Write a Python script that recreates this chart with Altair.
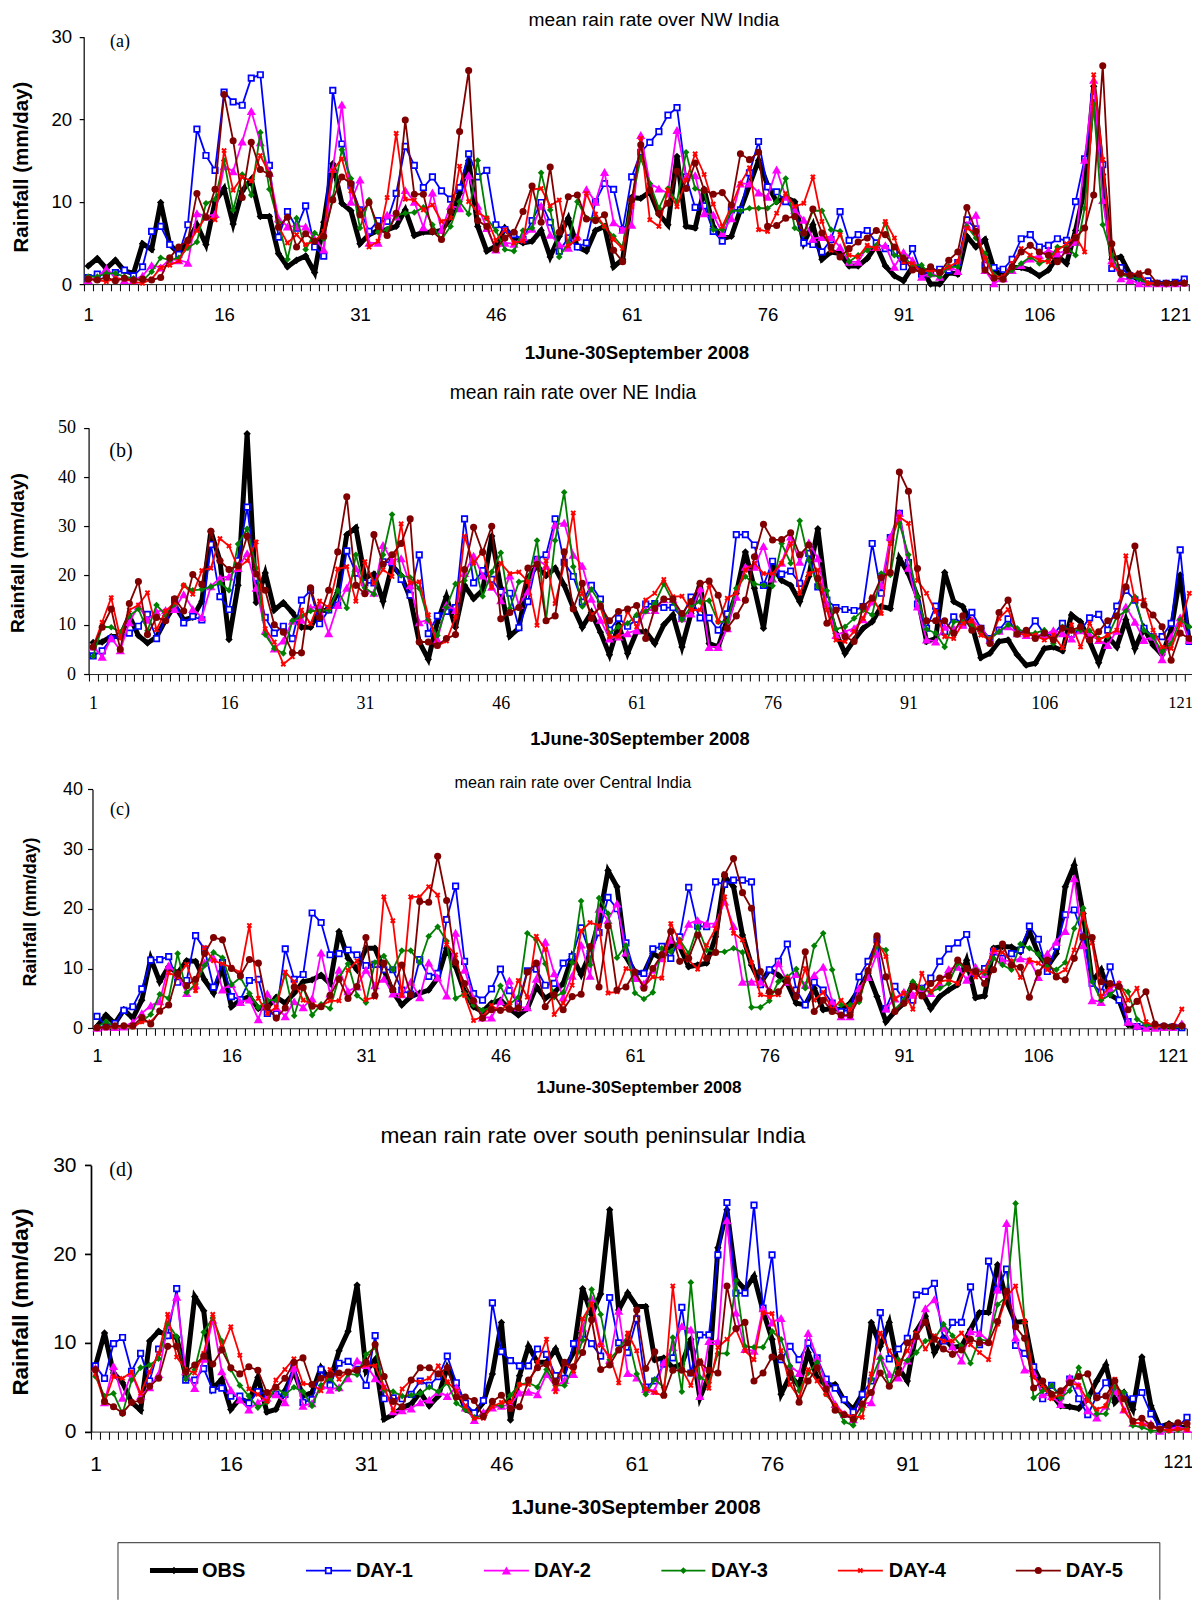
import altair as alt
import pandas as pd

days = list(range(1, 123))
series_names = ["OBS", "DAY-1", "DAY-2", "DAY-3", "DAY-4", "DAY-5"]

a_obs = [2.2,3.1,1.9,2.9,1.6,1.3,4.9,4.2,9.9,4.8,3.7,5.2,7.2,4.8,10,
11.6,7.3,11.3,12.7,8.2,8.2,3.7,2.1,2.9,3.4,1.4,7.5,14.6,9.8,8.9,
4.9,6,6.5,6.6,7,9,5.9,6.3,6.3,6.5,8,11,15,7,4,
4.6,6.8,5.5,5,5.2,6.5,3.3,5.8,8,4.5,4,6.5,7,2.1,3,
10.5,10.4,11.2,8.5,7.2,15.5,7,6.8,11.5,7,5.5,5.8,9,12,15,
12,10,10.5,10,5,7.2,3,3.9,3.7,2.2,2.2,3.1,4.7,2.2,1,
0.4,2.1,1.9,0,0,1.4,1.2,5.8,4.5,5.4,1.8,0.9,2,2,1.7,
1,1.7,3.4,2.5,6.5,11.6,24,13.3,3,3.3,1.2,0.5,0.2,0.1,0,
0.1,0.3]
a_d1 = [0.8,1.2,1.2,1.4,1.7,1.0,2.1,6.4,7,4.8,3.6,7.2,18.8,15.6,13.8,
23.3,22.1,21.7,25,25.4,14.4,5.7,8.8,6.8,9.5,4.5,3.4,23.5,17,12,
9,6.4,7.7,7.6,11,16.7,14.4,11.7,13,11.3,10.3,11.7,15.8,13,13.8,
7.2,6.6,6,5.4,7.7,9.9,7.5,4,5.6,4.5,5,10,12.2,11.5,6.6,
13,16,17.2,18.5,20.5,21.4,13,9.3,9.5,6.4,5.2,9,9,13.5,17.3,
11.8,11.2,10,9,5,4.8,3.9,5.4,8.8,5.3,6,6.5,5,4.3,3.9,
2.1,4.3,1.2,1.5,1.8,1.7,2.6,7.8,6.7,2.3,2,1.8,3,5.5,6,
4.5,4.7,5.5,5.3,10,15.2,22.7,14.5,1.9,2,1,0.5,0.4,0.1,0.1,
0.2,0.6]
a_d2 = [0.5,0.8,1.9,0.8,0.5,0.5,1,2.3,2,3,2.9,2.6,8.6,8.2,8.5,
14.3,13.7,17.3,21,17.2,13.5,8,7,7,7,5.5,4.2,14,21.8,10,
12.7,5,5,8.4,8.2,11.4,10,6.9,11.1,6.6,9.5,9.2,13.2,9.5,6.8,
4.2,5,4.9,5.7,6.7,9.5,6,4.8,4.4,5.8,11.5,10,13.6,7.5,6.6,
7.2,18.1,12.2,11.6,11,18.7,13,13.2,8.6,8.4,6.2,8,12.2,12.2,11.1,
10.6,13.9,10.6,9,7.8,5.5,5.7,5.7,4.5,2.7,2.7,4.5,4.5,4.7,2.1,
3.9,2.9,0.9,1.3,0.9,2.1,1.6,7.2,8.4,1.7,0.1,0.7,1.7,2.3,3.1,
3.5,4.1,3.7,4.1,5.1,15.1,24.8,10.2,2.9,0.7,0.5,0.1,0.1,0.1,0.1,
0.1,0.2]
a_d3 = [0.9,0.9,1.3,1.3,0.9,0.7,0.4,1.5,3.2,2.9,3.2,4.4,5.1,9.8,10.3,
15,9,13.3,10.8,18.4,11.5,7.5,3,8,4.2,6.2,5.5,10.5,16.3,12.8,
6.8,10.2,6.3,6.6,8.3,8.6,8.7,9.3,7.2,5.4,7,10,8.5,15,8,
6.5,4.2,4,6.5,6.8,13.5,9,3.3,5,10,8,8,7,5.8,4.5,
10.2,15.3,12.2,9.2,11.6,10,16,11.6,11.2,6.6,6.6,8.9,8.9,9.2,9.2,
9.2,10,12.8,6.8,6,8.9,8.9,6.6,6.4,2.7,3.5,4.1,4.7,7.4,3.5,
3.3,2.3,2.3,1.1,0.9,2.1,2.1,7,5.6,3.7,1.1,0.7,1.7,2.5,3.3,
2.5,2.9,4.5,4.5,3.5,9.2,21.8,7.2,3.5,1.1,0.9,0.6,0.1,0.1,0.1,
0.1,0.2]
a_d4 = [0.6,0.5,0.3,0.7,0.6,0.3,0.1,0.6,2,2.3,2.8,4.8,6.5,8.2,7.8,
16.2,11.4,13,12.5,15.6,13.4,7,5,6,4.8,5.2,6.4,13.8,15.2,11.3,
9,4.5,5.2,10.5,18.3,10.3,10.2,9,9.6,7.6,8,14.3,10,8.7,8,
5.3,6.6,5,5.2,11.5,11.6,9.5,10.2,4.6,5.5,11,8.5,7,5.4,4.3,
9.4,17.7,7.8,7,11.4,9.4,12.6,15.8,13.3,9.7,7,9.4,12.2,14.1,6.6,
6.4,8.6,11,9.4,9.8,13,7.6,4.1,6,3.5,3.3,4.7,4.3,7.6,5.6,
2.7,2.5,1.5,1.7,1.5,2.1,2.7,6.8,6.2,3.1,0.9,0.9,2.5,4.3,3.5,
2.9,2.7,4.1,4.9,5.8,3.9,25.4,15.1,2.3,1.3,1.1,1.4,0.1,0.1,0.1,
0.1,0.2]
a_d5 = [0.6,0.5,0.8,0.4,0.7,0.5,0.6,0.5,0.8,3.2,4.5,5.3,11,8.1,11.5,
23,17.4,10.5,17.2,13.9,13.3,6.9,8.1,4.5,6.1,5.2,5.8,10.2,13,12.2,
8.4,9.9,7,5.9,8.6,19.9,10.9,10.9,6.4,5.4,8.8,18.5,25.9,7.7,7,
4.2,5.6,6.3,8.8,11.9,7.5,14.2,6.3,10.6,10.8,7.9,7.7,8.4,4.1,2.7,
10.2,16.9,11.4,8.6,9.8,13.7,11.6,14.7,11.4,10.9,11.1,9.6,15.8,15.1,16,
7,7.1,8,8.2,6.2,9.1,6.2,4.5,3.3,4.3,5.1,5.6,6.5,6,4.5,
3.1,1.7,1.5,2.1,1.4,2.9,3.9,9.3,6.4,1.7,0.7,0.6,2.1,3.9,4.7,
3.9,3.5,2.7,4.1,5.6,6.8,10.8,26.5,4.9,1.3,1.1,1.2,1.5,0.1,0.1,
0.1,0.1]

b_obs = [6.4,6.5,7.6,7.6,11.8,7.8,6.3,7.5,11,14,11,11.5,14.8,29,23,
7,18,48.8,14.5,20.5,13,14.5,12.5,9.5,9.5,12.8,13,16.5,28.3,29.7,
19.5,20.3,14.8,22,20,15.5,6.5,3,10.5,15.7,9.5,18,15.3,17,28,
17.5,7.7,9.3,19.5,22,20,21.5,18,13.5,9.5,12.5,8.5,3.9,10,4.2,
8.6,8.6,6.2,10,12,5.5,12.3,18.4,6.2,5.5,11,16.4,24.8,17.4,9.3,
21.8,19,18,14.7,19.8,29.5,14.7,8.3,4.2,6.9,9.3,10.6,13.7,13.3,23.5,
20.4,15.7,6.6,7.2,20.6,14.7,13.7,10,3.3,4.2,6.6,6.9,3.9,1.8,2.2,
5.2,5.5,4.7,12,10.6,6.6,2.3,7.6,5.5,11,5.2,9.3,5.9,3.9,8.9,
20.1,6.6]
b_d1 = [3.7,4.7,7.2,7.7,8.3,9.7,12.1,7.2,11.2,15,10.4,11.7,11,26.3,15.7,
13.1,23,33.9,19.5,11.5,8.3,9.7,7.2,15,17,10.2,13,14,25,20.5,
18.5,18.5,22.8,22.6,19.2,16,24.2,8.2,11.8,12.7,13.5,31.5,18.5,21,19.2,
16.7,16.4,9.4,14.7,23.3,24.2,31.5,22.7,19.8,14.6,18,15.2,8.9,11.3,9.7,
11.1,14.2,14.3,13.5,13.5,11.6,15.6,11.4,11.4,8.9,12.2,28.3,28.3,26.2,18,
22.9,20.3,20.9,18.4,24.5,17.7,15,13.5,13.1,12.9,13.7,26.5,16.4,27.7,32.6,
22.6,14.2,9.3,13.8,8.6,11.6,10,12.5,9.3,7.2,8.9,11.2,8.3,8.3,10.8,
8.1,7.9,10.3,8.1,8.9,11.4,12.1,8.9,13.8,17,15,9.3,7.6,7.6,10.3,
25.2,6.6]
b_d2 = [5.6,3.5,7.3,4.8,10.5,13.8,11,12.7,13,13.2,16.2,13.2,11.5,17.8,19.5,
19.8,21.5,24.5,17.5,8.8,5.2,6.8,10.8,11,13.5,13.8,8.3,14,17.5,21.5,
17,16.5,26.2,23,23.5,18,10.5,11,7,14,13,20.5,24,20,17.7,
15,20,14,16.8,23.3,22,30.3,30.7,24.2,22,15.3,11,7.2,7.6,8.3,
8.9,13,13,15.2,15.2,11.3,12.3,17.4,5.5,5.5,9.3,15.7,21.8,21.8,26,
19.4,22.6,27.9,22.8,26.7,23.5,14.3,7.9,8.6,9.3,11.1,14.7,18,27.9,32.7,
21.6,13.7,7,6.6,9.6,9.3,10,11,9.3,6.9,8.8,9.7,8.3,7.9,7.9,
7.9,8.9,8.3,7.2,8.9,8,6.9,5.9,8.8,13.7,10.6,6.9,7.6,3,7.6,
11.5,6.9]
b_d3 = [3.6,9.6,9.5,8.5,11.8,13.2,8.8,14,12,14.2,18,17,17.2,17.7,18.5,
17,26.4,29.5,21.5,8,5.2,4.2,10.8,11.8,12.8,12.8,13,17,13.4,24.2,
17.5,16.2,24.2,32.4,20,19.6,17.4,11,7.8,13.5,18.3,19,22.7,15.8,20.7,
24.6,13.3,18.7,19,27.1,11,27.1,36.9,21.8,13.7,17.2,14.3,8.3,9.6,10.3,
12,12.7,14.3,18.3,14.7,11,13.7,14.7,14.9,10.6,10.6,17.4,19.8,18.3,18,
17.9,26.5,22.5,31.1,23.1,17.7,16.9,9.1,9.6,11.3,13,12,20.4,20.1,30.6,
24.2,15.7,9.1,8.3,5.5,10.6,10.6,10,8.3,7.2,8.6,10,9.3,8.3,8.3,
8.9,6.2,9.6,8.9,8.9,8.8,7.2,7.6,11.6,12.8,15.7,8.9,7.6,4.5,6.2,
11,9.6]
b_d4 = [5.5,10.5,15.5,7.3,13,14,16.5,9,12.8,14.5,18,16.2,21,21.5,27.5,
26,21.5,23,26.8,9.2,6.5,2,3.5,13,10.2,14.8,13.5,21.3,21.8,14.8,
22.8,18.5,21.2,19.8,30.5,18.5,18.7,12,5.7,6.7,11.5,28,22.5,25,17.6,
22.5,20.4,20.7,18.8,9.9,23,14.3,22.3,32.7,16.3,12,13.5,7.6,7.6,12.7,
9.6,15,16.4,19.2,15.7,15.8,13,13,18,10.6,15.4,16.4,21.1,22.5,20.4,
20.4,22.5,26.5,16.4,20.4,21.1,13,6.9,6.6,8.6,11.3,15.7,12.3,26.5,31.9,
30.6,19,16.4,12.7,7.6,7.2,10.3,10.8,7.9,6.9,11.3,13.1,8.3,7.9,7.9,
6.9,7.9,5.3,10,5.5,10.3,6.9,7.9,8.9,24,15,15,8.9,5.5,5.2,
10,16.4]
b_d5 = [5.5,9.5,13.2,5,14.3,18.8,8,11.5,10.8,15.3,12.8,20.2,18.2,29,23,
21.2,22,28,20.3,17,10,8.5,4.3,4.3,17.5,11.5,17,24.8,36,18,
16.3,28.3,22.3,24.2,26.5,31.5,6.5,6.5,5.8,7.2,8,21.2,29.8,24.7,30,
11.2,12.5,13.5,21.5,22.3,10.8,11.8,24.8,13.2,18.4,11.3,13.8,10.8,12.7,13.2,
13.9,7.2,13.3,15.2,15.2,12.3,14.7,18.4,18.9,16,9.3,11.8,15,23.8,30.4,
27.2,27.3,28.7,24.2,26.2,19.4,10.3,13,7.6,6.6,13.7,15.4,19.6,20.6,41,
37.1,21.4,10.8,10.8,10.8,8.3,11.8,8.9,9.3,6.2,12.5,15,8.1,8.9,7.2,
8.3,6.9,9.3,8.9,9.6,6.9,8.6,10.8,11.8,17.7,26,14,12,9.6,2.8,
8.3,7.2]

c_obs = [0.3,2.2,0.8,3.1,1.7,4.7,11.7,7.8,10.3,9.2,11.3,11.2,8.1,5.9,10.3,
3.6,4.7,5.3,3.3,3.5,5.2,4.2,5.9,7.8,8.1,8.9,7.5,16.2,11.7,9.8,
13.4,13.4,9.8,6.1,3.9,5.3,5.9,6.4,8.4,13.4,10.3,6.1,3.6,2.8,4.2,
4.7,3.3,2.2,3.3,7,5,6,7.5,12,9,12.5,18,26.4,23.7,12,
9.4,9.2,12.5,11.7,13.9,13.7,10.3,10.6,10.9,15.3,25.4,23.7,15.6,10.6,7.5,
9.8,8.9,7.5,4.2,3.9,6.7,3.1,3.3,3.1,4.2,6.5,9.2,5.3,1.1,2.8,
4.2,7.5,6.1,3.3,5.3,6.4,7.3,11.4,5.1,5.4,13.4,13.7,13.6,12.8,16.2,
12.5,10.3,12.5,23.7,27.3,19.2,7.8,9.8,5.6,4.7,0.6,0.2,0.1,0.2,0.2,
0.3,0.2]
c_d1 = [2,0.4,0.8,3,3.6,6.6,11.4,11.5,12,7.7,8,15.5,13.2,6.9,11,
5.3,4.8,8,8.2,2.5,2.4,13.3,8.2,9,19.3,17.7,12.3,12.5,13.1,12.3,
10.5,10.7,9.8,9.8,6.4,5.7,11.5,8.7,9.2,18.2,23.8,11.2,5.8,4.7,6.6,
9.9,6.3,4.1,9.6,9.9,7.2,7.5,10.9,12,16.8,12.5,16,21.9,20,14.3,
9.2,9.2,13.3,13.7,11.7,15.3,23.6,17.1,17,24.5,24.1,24.8,24.8,24.5,7.3,
9.8,11.2,14.1,6.4,3.9,7.7,6.4,4.2,2.8,3.1,8.6,11.2,14.8,3.3,7,
4.7,4.7,6.7,8.4,11.2,13.3,14.3,15.7,9.2,10,12.8,11.7,12.5,13.1,17.1,
14.9,9.5,13.7,19,19.8,15.3,7.5,6,10.3,4.7,1.1,0.3,0.2,0.2,0.2,
0.2,0.1]
c_d2 = [0.1,0.3,0.2,0.3,1,2.5,3.8,4.5,10.5,9,5.9,7.2,11,11.8,6.5,
7.4,4.4,4.8,1.5,5.8,3.5,2,4.5,3.5,5,12.7,5.8,9.8,6.2,7,
9.8,7.2,8.3,5.8,5.7,7.8,5.2,11,8.5,5.5,16,9.8,5,1.8,1.8,
4.5,8,3.5,3.5,8.3,14.5,9.2,5.2,8.8,14,8.8,20,18.1,20.9,12.7,
8.4,7.5,9.8,11.7,14.8,13.9,17.5,18.1,17.5,17.5,21.2,17.1,7.8,7.8,7.8,
6.4,10.9,7.8,9.1,7.3,8.9,10.3,4.5,2,2,6.7,8.6,12.5,3.3,5,
6.1,5.6,6.7,5.9,7.5,9.9,10.3,8.1,10.3,9.1,13.1,11.4,11.2,11.7,11.4,
8.6,12.5,14.5,16.3,25.1,13.9,4.7,4.4,6.7,7.5,1.1,0.4,0.1,0.1,0.2,
0.2,0.8]
c_d3 = [0.2,1.1,0.3,0.3,0.3,1.2,2.3,5.7,5,12.5,6,7.4,10.5,12.7,11.8,
7.3,8.5,5.8,3.5,4.7,4.7,9,2.1,7,2.2,4,3.3,8.5,10.8,5.5,
4.3,11,12.1,9.8,13,13,11,15.4,17,14.6,5,5.8,3.9,3,3.5,
7.1,4,5.2,15.9,14.8,10.8,5.2,6,11,21.3,10.6,21.8,19.2,11.8,13.9,
5.9,4.9,6,13.4,12.8,14.8,12.5,17,13.1,12.8,12.8,13.4,12.7,3.5,3.5,
4.6,7.8,8.6,9.9,6.7,13.8,15.9,9.8,3.9,3.9,4.4,9.8,13.7,13.1,3.1,
4.7,7.8,6.7,6.1,6.7,7.5,10.9,9.8,9.8,9.2,11.7,10.6,9.8,14.1,13.4,
12.4,10.3,9.8,11,16.7,20.1,7.8,4.7,5.6,7,6.1,1.5,0.6,0.3,0.2,
0.2,0.2]
c_d4 = [0.1,0.1,0.2,0.3,0.2,1.1,1.1,2.7,9.3,8.6,10.7,6.3,13.5,11.3,10.8,
10.2,9.3,17.2,5,2.5,3.5,9.4,7.8,4.7,4,3.7,4.6,4.6,9.7,11.3,
4.8,5.2,22,18,5.5,22,22,23.7,22.3,14,12.3,5.5,1.3,2,3.8,
2.9,4.2,8,5.2,15.4,13.2,2.3,4.2,7.2,16.3,17.7,17.2,5.9,6.1,10,
9.4,7,8.6,8.4,17.5,14.5,11.4,9.9,13.9,16.7,22,15.9,14.8,11,5.6,
5.3,5.6,8.4,5.3,10,4.7,6,3.2,4.7,3.1,5.3,9.8,14.5,12,4.9,
5.9,3.2,9.2,6.1,7.8,8.1,7.5,10,8.6,9.5,13.1,12.7,11.2,8.5,11.4,
10.9,9.8,8.9,9.8,13.1,19.1,14.3,5.3,7,7.5,4.7,6.7,1.1,0.3,0.3,
0.3,3.2]
c_d5 = [0.1,0.2,0.4,0.4,0.4,1.8,0.7,2.9,3.9,9.1,7.1,8.2,12.5,15.2,14.8,
10,8.8,11.5,10.9,3.6,1.7,3.4,6.9,6.8,3.7,3.6,5.5,8.2,5,7,
15.2,5.5,10.9,6.5,10.6,5.6,21.2,21.1,28.8,21.4,11,7.5,4.6,1.7,3.1,
3,3.2,3.4,9.4,10.9,3.6,5.6,3.1,5.3,5.7,13.7,6.9,17.1,6.4,6.9,
9.4,6.7,10,12.3,16.2,11.2,11.7,15.6,11.7,12.7,25.7,28.4,22.7,20.1,9.5,
6.1,6.1,8,5.3,12.8,2.8,4.7,2.8,2.2,2.2,5,9.6,15.5,8.6,2.8,
4.2,7,5.4,7.5,8.4,8.8,11.4,10,9.5,7.5,9.8,14.1,10.6,10.2,5.2,
9.3,11.4,8.6,8.1,11.7,15.3,15.2,7.8,7.5,7,3.1,4.5,6.1,0.7,0.4,
0.3,0.4]

d_obs = [7.4,11.1,6.6,5.5,3.3,2.4,10.2,11.3,10.8,10.6,6.3,15.2,13.6,4.8,5.9,
2.5,3.7,3.3,6.1,2.2,2.5,4.6,6.8,4,4.4,7.2,5.7,9.1,11.3,16.5,
6.8,8.1,1.4,1.9,2.7,3.1,4.4,2.9,4,7.2,5.2,2.5,2,3.3,6.5,
12.3,1.3,6.3,9.6,7.8,7.8,9.3,7,8.9,16.1,13.2,15.5,25,13.7,15.6,
14.1,14.1,8.1,8.3,7.2,7.6,10.4,3.8,6.3,20.7,25,17.1,16,17.5,13.6,
10.4,4.2,6.3,5.2,8.9,6.1,5.2,5.3,3.5,2.5,4.2,12.3,9.6,12.3,7.2,
5.7,11.3,13,8.9,10.6,9.5,9.6,11.5,13.4,13.4,18.8,14.7,12.3,12.4,7.2,
5.2,4.2,2.9,2.8,2.6,3.7,5.7,7.5,3.3,4.4,2.5,8.4,2.9,0.5,0.9,
0.5,0.5]
d_d1 = [7.4,6,9.9,10.6,6.8,8.8,5.7,9.3,10.8,16.1,5.8,5.8,7.1,4.7,4.9,
4,4,3.2,4.5,4.2,4.2,4.2,7.5,3.3,3.6,7,5.2,7.7,7.9,7,
5.2,10.8,3.7,3.8,3.7,4.2,5.7,5.2,6.2,8.5,5.5,3.2,2.1,3.5,14.5,
9,8,7.4,7.4,9.3,8.7,6.3,6,9.9,11,9.9,8.5,15.1,10,8.9,
12.7,5,5.7,7.6,8.3,14,6.6,10.9,10.9,19.9,25.8,15.6,15.6,25.5,13.9,
19.9,8.1,9.6,8.1,10,8.3,5.9,4.9,3.6,2.2,4.2,5.7,13.4,8.2,9.3,
10.5,15.4,15.8,16.7,10.2,12.3,12.3,16.3,9.8,19.2,16,18.3,9.7,8.8,7.3,
3.7,5.2,4,5.9,3.7,1.9,4,5.5,4.6,4,3.7,4.4,2,0.5,0.5,
0.5,1.6]
d_d2 = [7.2,3.3,7.4,3.8,6.6,4,5,6.5,12,15.2,6.8,4.9,8.2,12.6,6.8,
4.7,3.6,2.5,3.3,3.8,4.2,3.3,7.2,2.9,3.2,5.2,4.7,5,6,8,
7.5,6,5,2.3,2.4,2.6,3.3,3.6,4.5,4,5,2.7,1.3,2.2,2.7,
2.9,3,4.4,4.5,4.2,6.5,5,5.8,6.5,11.7,15,10,8.1,13.6,6.6,
6.1,4.8,4.6,7.8,9.5,11.9,11.5,4,10.2,10.2,23.8,13.4,9.3,9.1,13.9,
12.3,12.8,7.4,6.6,11.1,8.3,5.3,3.1,2,1.4,3.1,3.3,8.5,6.5,6.1,
8,10.8,13.9,14.9,11.7,9.6,8,11.3,11.1,10.2,16,23.5,10.6,7,6.6,
4.2,4,3.1,6.1,5.2,2.4,1.6,2.9,4.6,2.5,1,0.9,0.9,0.1,0.3,
0.5,0.3]
d_d3 = [6.2,4,4.3,2,5.8,7.2,7.5,8.2,12.2,10.7,5.9,7,11.2,12.8,10.2,
7,5.2,4,2.7,3.3,5,4.2,5,4.5,2.9,5.2,6,4.8,6.5,6.4,
8.7,9.5,4.7,4.5,4,4.1,4.3,5,4.5,5.5,3.2,2.5,1.6,1.8,3,
2.9,4.1,5.3,5.5,5,7,5.2,5.2,7.3,10.3,16,13.2,8.1,9.3,10.8,
6.5,4.2,5.9,5,10.6,4.5,16.8,6.1,5.5,8.8,8.8,17,9.6,9.5,9.5,
11.3,10.4,7.4,4.6,6.6,7.8,4.2,2.9,1.1,0.7,2.5,5.9,8.3,5.2,8.1,
8,8.9,10.2,10.4,12.1,10.8,9.6,7.7,10.4,10.2,14.3,15.2,25.7,12.3,3.8,
4.6,5.2,3.8,4.6,7.2,4,2,2,5,4.4,0.7,0.5,0.1,0.1,0.1,
0.2,0.3]
d_d4 = [6.5,3.3,6.2,6,6.7,4.3,6.7,8.8,13.2,8.4,7,6.6,8.8,13.2,9.4,
11.8,8.6,4.8,4.2,3.4,5.8,7,8.2,5.4,5.3,4.6,7,5.9,6.8,7,
7.5,7.4,5,2.4,4.8,5.8,5.6,6,7.4,5.6,4.6,2.9,1.5,1.5,2.8,
3.3,3.3,5.3,5.3,7.8,10.4,4.5,7.7,6.8,12.7,14.4,9.7,8.5,5.5,11.1,
9.1,4.8,4.4,4,16.4,7,5.2,8,4.9,9.5,10.4,11.5,9.1,8.1,13.4,
13.3,9.1,5.3,3.8,7,5.7,4.2,2.9,2,1.7,1.6,6.5,11.1,9.1,7.6,
9.1,11.1,9.3,10.8,10.2,10.2,11.1,9.8,8.9,8.1,12.1,15.2,16.4,12.4,6.1,
5.2,3.7,4.2,5.5,5.2,3.5,2.5,2.9,5.9,2.4,1,0.9,0.5,0.3,0.1,
0.3,0.2]
d_d5 = [7,3.4,2.8,2.1,3.3,3.5,5.1,6,9.6,9.6,6.7,7.5,8.5,7.6,9.2,
7.2,6.5,7.3,6.9,4.4,5,6,7.8,8.3,5.3,6,6.4,6.6,6.7,6.9,
7.8,9.8,6.2,3.4,2.8,5.8,7.2,7.2,6.5,7.2,3.9,3.9,3.5,1.7,3.4,
4.1,2.6,2.8,5.8,7.2,7.6,5.6,7.8,7.3,8.9,12.6,7,7.5,9.2,10,
13.7,7.1,9,4.1,6.9,6.9,6.6,7.8,6.9,6.6,16.4,11.6,12.3,5.7,6.6,
8.4,8.4,6.6,3.3,5.7,7.2,4.8,2.4,1.9,1.4,3.1,4.4,6.6,5.1,6.6,
10,10.7,12.3,10.4,9.3,8.7,9.2,10.4,10,10,12.4,15.8,11.8,10.5,4.9,
5.7,4.2,4.6,5.5,6.2,6.5,3.8,4,5.7,3.7,1.2,1.5,0.7,0.3,0.7,
1,0.9]

X_PATH = "M-.5,-.5L.5,.5M-.5,.5L.5,-.5"
styles = {
    "OBS": dict(color="#000000", strokeWidth=5,
                point=dict(shape="diamond", size=55, filled=True, color="#000000")),
    "DAY-1": dict(color="#0000ff", strokeWidth=1.8,
                  point=dict(shape="square", size=30, filled=True, fill="#ffffff", stroke="#0000ff", strokeWidth=1.7)),
    "DAY-2": dict(color="#ff00ff", strokeWidth=1.8,
                  point=dict(shape="triangle-up", size=85, filled=True, color="#ff00ff")),
    "DAY-3": dict(color="#008000", strokeWidth=1.8,
                  point=dict(shape="diamond", size=44, filled=True, color="#008000")),
    "DAY-4": dict(color="#ff0000", strokeWidth=1.8,
                  point=dict(shape=X_PATH, size=70, filled=False, color="#ff0000", strokeWidth=2)),
    "DAY-5": dict(color="#800000", strokeWidth=1.8,
                  point=dict(shape="circle", size=50, filled=True, color="#800000")),
}

SANS = "Liberation Sans"
SERIF = "Liberation Serif"

panels = [
    dict(top=8, h=372, left=82.7, right=1188, y0=284, ytop=36.7, ymax=30, yvals=[0, 10, 20, 30],
         series=[a_obs, a_d1, a_d2, a_d3, a_d4, a_d5], lf=SANS, lfs=18.6, last_fs=18.6, ypad=7.5, xpad=15,
         xtick=6.7, ytick=4.5, yw=1.2,
         title="mean rain rate over NW India", tx=653, ty=20, tfs=19.2,
         xl_x=636, xl_y=353, xl_fs=18.7, yl_x=21, yl_y=167, yl_fs=20.5,
         tag="(a)", tag_x=119, tag_y=41.5, tag_fs=18),
    dict(top=380, h=390, left=87.6, right=1193, y0=674, ytop=427.7, ymax=50, yvals=[0, 10, 20, 30, 40, 50],
         series=[b_obs, b_d1, b_d2, b_d3, b_d4, b_d5], lf=SERIF, lfs=18, last_fs=16.5, ypad=8, xpad=13.5,
         xtick=7, ytick=5, yw=1.2,
         title="mean rain rate over NE India", tx=572, ty=392.5, tfs=19.3,
         xl_x=639, xl_y=740, xl_fs=18.3, yl_x=17, yl_y=553, yl_fs=19.2,
         tag="(b)", tag_x=120, tag_y=450.5, tag_fs=20),
    dict(top=770, h=350, left=91.5, right=1185.5, y0=1028.3, ytop=789.3, ymax=40, yvals=[0, 10, 20, 30, 40],
         series=[c_obs, c_d1, c_d2, c_d3, c_d4, c_d5], lf=SANS, lfs=18, last_fs=18, ypad=5, xpad=12.5,
         xtick=7, ytick=5, yw=1.2,
         title="mean rain rate over Central  India", tx=572, ty=783, tfs=16.2,
         xl_x=638, xl_y=1088, xl_fs=17.1, yl_x=30.5, yl_y=912, yl_fs=17.9,
         tag="(c)", tag_x=119, tag_y=810.5, tag_fs=18),
    dict(top=1120, h=420, left=90, right=1190.7, y0=1431.7, ytop=1165.3, ymax=30, yvals=[0, 10, 20, 30],
         series=[d_obs, d_d1, d_d2, d_d3, d_d4, d_d5], lf=SANS, lfs=21, last_fs=18, ypad=8.5, xpad=14,
         xtick=7.7, ytick=6.5, yw=1.7,
         title="mean rain rate over south peninsular  India", tx=592, ty=1136.5, tfs=22.7,
         xl_x=635, xl_y=1508, xl_fs=20.8, yl_x=20, yl_y=1302, yl_fs=22.5,
         tag="(d)", tag_x=120, tag_y=1170, tag_fs=20),
]


def text_layer(txt, x, y, size, font, bold=False, angle=0, tile_top=8):
    return alt.Chart(pd.DataFrame({"t": [txt]})).mark_text(
        font=font, fontSize=size, fontWeight="bold" if bold else "normal",
        color="#000000", angle=angle, align="center", baseline="middle",
    ).encode(text="t:N", x=alt.value(x - 8), y=alt.value(y - tile_top))


def build_panel(p):
    top = p["top"]
    L, R = p["left"] - 8, p["right"] - 8
    y0, yt = p["y0"] - top, p["ytop"] - top
    x_enc = alt.X(
        "day:O",
        scale=alt.Scale(type="band", domain=days, range=[L, R], paddingInner=0, paddingOuter=0),
        axis=alt.Axis(
            title=None, grid=False, ticks=True, tickBand="extent", labelAngle=0, labelOverlap=False,
            labelExpr="(datum.value-1)%15==0 ? datum.value : ''", offset=-(p["h"] - y0),
            tickSize=p["xtick"], tickWidth=1.1, domainColor="#222222", tickColor="#111111", labelColor="#000000",
            labelFont=p["lf"], labelPadding=p["xpad"], labelBound=False,
            labelFontSize={"condition": {"test": "datum.value == 121", "value": p["last_fs"]}, "value": p["lfs"]},
        ),
    )
    y_enc = alt.Y(
        "value:Q",
        scale=alt.Scale(domain=[0, p["ymax"]], range=[y0, yt], nice=False, zero=True),
        axis=alt.Axis(
            title=None, grid=False, ticks=True, values=p["yvals"], offset=-L, tickSize=p["ytick"],
            domainColor="#000000", tickColor="#000000", labelColor="#000000",
            domainWidth=p["yw"], tickWidth=p["yw"],
            labelFont=p["lf"], labelFontSize=p["lfs"], labelPadding=p["ypad"],
        ),
    )
    layers = []
    for name, vals in zip(series_names, p["series"]):
        assert len(vals) == len(days), (p["title"], name, len(vals))
        df = pd.DataFrame({"day": days, "value": vals})
        st = styles[name]
        layers.append(
            alt.Chart(df).mark_line(
                color=st["color"], strokeWidth=st["strokeWidth"],
                point=alt.OverlayMarkDef(**st["point"]),
            ).encode(x=x_enc, y=y_enc)
        )
    layers += [
        text_layer(p["title"], p["tx"], p["ty"], p["tfs"], SANS, tile_top=top),
        text_layer("1June-30September 2008", p["xl_x"], p["xl_y"], p["xl_fs"], SANS, True, tile_top=top),
        text_layer("Rainfall (mm/day)", p["yl_x"], p["yl_y"], p["yl_fs"], SANS, True, angle=270, tile_top=top),
        text_layer(p["tag"], p["tag_x"], p["tag_y"], p["tag_fs"], SERIF, tile_top=top),
    ]
    return alt.layer(*layers).properties(width=1184, height=p["h"])


# legend strip: the frame runs down to the page edge and stays open at the bottom
LEG_TOP = 1540
LEG_H = 60
LEG_Y = 1570.7 - LEG_TOP
legend_spans = [(149, 197, 201), (305, 350, 355), (483, 528, 533), (660.5, 704.5, 710), (837, 882, 888), (1015, 1060, 1065)]
dummy = pd.DataFrame({"k": [0]})


def frame_rule(**enc):
    return alt.Chart(dummy).mark_rule(color="#555555", strokeWidth=1.2).encode(**enc)


leg_layers = [
    frame_rule(x=alt.value(117 - 8), x2=alt.value(1159 - 8), y=alt.value(2.7)),
    frame_rule(x=alt.value(117 - 8), y=alt.value(2.7), y2=alt.value(LEG_H)),
    frame_rule(x=alt.value(1159 - 8), y=alt.value(2.7), y2=alt.value(LEG_H)),
]
for name, (x1, x2, tx) in zip(series_names, legend_spans):
    st = styles[name]
    leg_layers.append(
        alt.Chart(pd.DataFrame({"s": [name]})).mark_rule(
            color=st["color"], strokeWidth=5 if name == "OBS" else 1.8
        ).encode(x=alt.value(x1 - 8), x2=alt.value(x2 - 8), y=alt.value(LEG_Y))
    )
    leg_layers.append(
        alt.Chart(pd.DataFrame({"s": [name]})).mark_point(
            **{**st["point"], "opacity": 1}
        ).encode(x=alt.value((x1 + x2) / 2 - 8), y=alt.value(LEG_Y))
    )
    leg_layers.append(
        alt.Chart(pd.DataFrame({"s": [name]})).mark_text(
            font=SANS, fontSize=20, fontWeight="bold", color="#000000", align="left", baseline="middle"
        ).encode(text="s:N", x=alt.value(tx - 8), y=alt.value(LEG_Y + 0.5))
    )
legend_tile = alt.layer(*leg_layers).properties(width=1184, height=LEG_H)

chart = alt.vconcat(
    *[build_panel(p) for p in panels], legend_tile, spacing=0, bounds="flush",
    padding={"top": 0, "bottom": 0, "left": 0, "right": -7.8},
    background="#ffffff",
).configure_view(stroke=None)

chart.save("out.html", embed_options={"renderer": "svg", "actions": False})
